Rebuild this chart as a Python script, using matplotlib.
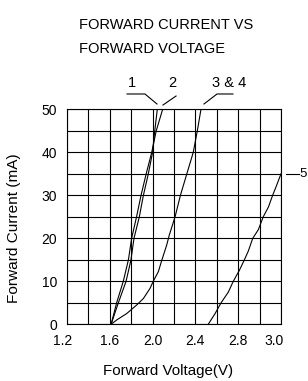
import matplotlib

matplotlib.use("Agg")
import matplotlib.pyplot as plt
import numpy as np
from matplotlib import font_manager
from matplotlib.transforms import ScaledTranslation

# forward current (mA) vs forward voltage (V)
curve1_v = [1.612, 1.680, 1.752, 1.798, 1.826, 1.876, 1.914, 1.960, 2.000, 2.020, 2.044]
curve1_i = [0, 5, 10, 15, 20, 25, 30, 35, 40, 45, 50]
curve2_v = [1.612, 1.664, 1.726, 1.774, 1.804, 1.850, 1.892, 1.940, 1.992, 2.034, 2.094]
curve2_i = [0, 5, 10, 15, 20, 25, 30, 35, 40, 45, 50]
curve34_v = [1.612, 1.664, 1.758, 1.852, 1.914, 1.976, 2.006, 2.054, 2.084, 2.132,
             2.156, 2.210, 2.260, 2.320, 2.380, 2.418, 2.452]
curve34_i = [0, 1, 2.5, 4.5, 6, 8.35, 10, 12.25, 14.75, 18.45,
             20.75, 25, 30, 35, 40, 45, 50]
curve5_v = [2.520, 2.584, 2.640, 2.708, 2.754, 2.810, 2.858, 2.894, 2.936, 2.988,
            3.034, 3.082, 3.122, 3.154, 3.200]
curve5_i = [0, 2.5, 5, 7.5, 10, 12.5, 15, 17, 20, 22, 25, 27.25, 30, 32, 35]

x_grid = np.round(np.arange(1.2, 3.21, 0.2), 2)
x_labels = ["1.2", "", "1.6", "", "2.0", "", "2.4", "", "2.8", "", "3.0"]
y_grid = np.arange(0, 51, 5)
y_labels = ["0", "", "10", "", "20", "", "30", "", "40", "", "50"]

names = {f.name for f in font_manager.fontManager.ttflist}
narrow = "Liberation Sans Narrow" if "Liberation Sans Narrow" in names else None
plain = "Liberation Sans"
# without the narrow face, shrink the wide labels to the original's widths
title_fs, xlab_fs, ylab_fs = (13, 13, 13) if narrow else (10.5, 10.9, 11.1)
narrow = narrow or plain

fig = plt.figure(figsize=(3.08, 3.81), dpi=100)
ax = fig.add_axes([67 / 308, 1 - 324.3 / 381, 214 / 308, 215 / 381])

for v, i in [(curve1_v, curve1_i), (curve2_v, curve2_i),
             (curve34_v, curve34_i), (curve5_v, curve5_i)]:
    ax.plot(v, i, color="black", lw=0.8, zorder=3)

ax.set_xlim(1.2, 3.2)
ax.set_ylim(0, 50)
ax.set_xticks(x_grid)
ax.set_xticklabels(x_labels, fontfamily=plain, fontsize=10)
ax.set_yticks(y_grid)
ax.set_yticklabels(y_labels, fontfamily=plain, fontsize=10)
ax.tick_params(axis="both", length=0)
ax.tick_params(axis="x", pad=7)
ax.tick_params(axis="y", pad=7)
ax.grid(True, color="black", lw=0.8)
for sp in ax.spines.values():
    sp.set_linewidth(0.8)

# the end labels sit a little left of their grid lines in the original
for lbl, dx in zip(ax.get_xticklabels(), [-4, 0, 0, 0, 0, 0, 0, 0, 0, 0, -7]):
    if dx:
        lbl.set_transform(lbl.get_transform() + ScaledTranslation(dx / 100, 0, fig.dpi_scale_trans))

# curve call-outs
lead = dict(color="black", lw=0.8, clip_on=False)
ax.plot([1.761, 1.929, 2.041], [53.56, 53.56, 51.23], **lead)
ax.plot([2.219, 2.097], [53.09, 51.0], **lead)
ax.plot([2.751, 2.602, 2.480], [53.56, 53.56, 51.23], **lead)
ax.plot([3.247, 3.368], [35, 35], **lead)
txt = dict(fontfamily=plain, fontsize=10.5, clip_on=False)
ax.text(1.807, 55.1, "1", ha="center", va="baseline", **txt)
ax.text(2.181, 55.1, "2", ha="center", va="baseline", **txt)
ax.text(2.714, 55.1, "3 & 4", ha="center", va="baseline", **txt)
ax.text(3.37, 35, "5", ha="left", va="center", fontfamily=plain, fontsize=9.5, clip_on=False)

fig.text(79 / 308, 1 - 29.3 / 381, "FORWARD CURRENT VS", ha="left", va="baseline",
         fontfamily=narrow, fontsize=title_fs)
fig.text(79 / 308, 1 - 53.3 / 381, "FORWARD VOLTAGE", ha="left", va="baseline",
         fontfamily=narrow, fontsize=title_fs)
fig.text(168 / 308, 1 - 375.5 / 381, "Forward Voltage(V)", ha="center", va="baseline",
         fontfamily=narrow, fontsize=xlab_fs)
fig.text(14.5 / 308, 1 - 228 / 381, "Forward Current (mA)", ha="center", va="center",
         rotation=90, fontfamily=narrow, fontsize=ylab_fs)

fig.savefig("out.png", dpi=100)
